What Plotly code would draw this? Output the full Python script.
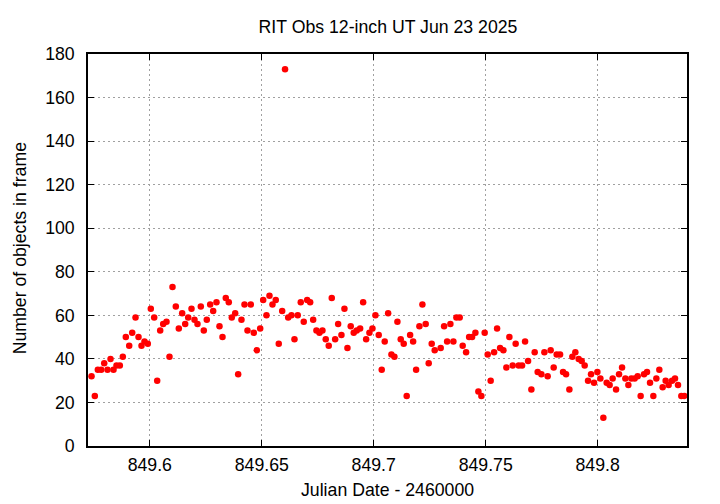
import plotly.graph_objects as go

# Julian Date - 2460000
jd = [
    849.57397, 849.57545, 849.57679, 849.57830, 849.57964, 849.58112, 849.58246, 849.58379, 849.58513, 849.58661,
    849.58795, 849.58929, 849.59080, 849.59214, 849.59362, 849.59496, 849.59629, 849.59763, 849.59911, 849.60045,
    849.60196, 849.60330, 849.60464, 849.60598, 849.60746, 849.60879, 849.61013, 849.61161, 849.61295, 849.61446,
    849.61580, 849.61714, 849.61862, 849.61996, 849.62129, 849.62277, 849.62411, 849.62545, 849.62696, 849.62830,
    849.62978, 849.63112, 849.63246, 849.63393, 849.63527, 849.63661, 849.63813, 849.63946, 849.64094, 849.64228,
    849.64362, 849.64509, 849.64643, 849.64777, 849.64929, 849.65063, 849.65210, 849.65344, 849.65478, 849.65625,
    849.65759, 849.65911, 849.66040, 849.66179, 849.66326, 849.66460, 849.66607, 849.66741, 849.66875, 849.67027,
    849.67161, 849.67295, 849.67442, 849.67576, 849.67710, 849.67857, 849.67991, 849.68125, 849.68277, 849.68411,
    849.68558, 849.68692, 849.68826, 849.68973, 849.69107, 849.69241, 849.69393, 849.69527, 849.69661, 849.69808,
    849.69942, 849.70076, 849.70223, 849.70357, 849.70491, 849.70643, 849.70790, 849.70924, 849.71058, 849.71205,
    849.71339, 849.71473, 849.71625, 849.71759, 849.71893, 849.72040, 849.72174, 849.72321, 849.72455, 849.72589,
    849.72723, 849.72991, 849.73143, 849.73277, 849.73424, 849.73558, 849.73692, 849.73839, 849.73973, 849.74125,
    849.74259, 849.74393, 849.74540, 849.74674, 849.74808, 849.74955, 849.75089, 849.75223, 849.75375, 849.75509,
    849.75643, 849.75790, 849.75924, 849.76058, 849.76205, 849.76339, 849.76473, 849.76625, 849.76759, 849.76893,
    849.77040, 849.77188, 849.77321, 849.77487, 849.77621, 849.77768, 849.77902, 849.78036, 849.78170, 849.78321,
    849.78455, 849.78589, 849.78737, 849.78871, 849.79004, 849.79152, 849.79286, 849.79420, 849.79571, 849.79705,
    849.79839, 849.79987, 849.80121, 849.80254, 849.80402, 849.80536, 849.80670, 849.80821, 849.80955, 849.81089,
    849.81237, 849.81371, 849.81504, 849.81652, 849.81786, 849.81920, 849.82071, 849.82205, 849.82339, 849.82487,
    849.82621, 849.82754, 849.82902, 849.83036, 849.83170, 849.83321, 849.83455, 849.83589, 849.83737, 849.83871,
]

# Number of objects detected in each frame
n_objects = [
    32, 23, 35, 35, 38, 35, 40, 35, 37, 37,
    41, 50, 46, 52, 59, 50, 46, 48, 47, 63,
    59, 30, 53, 56, 57, 41, 73, 64, 54, 61,
    56, 59, 63, 58, 56, 64, 53, 58, 65, 62,
    66, 55, 50, 68, 66, 59, 61, 33, 58, 65,
    53, 65, 52, 44, 54, 67, 60, 69, 65, 67,
    47, 62, 173, 59, 60, 49, 60, 66, 57, 67,
    66, 58, 53, 52, 53, 49, 46, 68, 49, 56,
    51, 63, 45, 55, 52, 53, 54, 66, 49, 52,
    54, 60, 51, 35, 48, 61, 42, 41, 57, 49,
    47, 23, 51, 48, 35, 55, 65, 56, 38, 47,
    44, 45, 55, 48, 56, 48, 59, 59, 46, 43,
    50, 50, 52, 25, 23, 52, 42, 30, 43, 54,
    45, 44, 36, 50, 37, 47, 37, 37, 48, 39,
    26, 43, 34, 33, 43, 32, 44, 36, 42, 42,
    34, 33, 26, 41, 43, 40, 39, 37, 30, 33,
    29, 34, 31, 13, 29, 28, 31, 26, 33, 36,
    31, 28, 31, 31, 32, 23, 33, 34, 29, 23,
    31, 35, 27, 30, 28, 30, 31, 28, 23, 23,
]

x_tick_vals = [849.6, 849.65, 849.7, 849.75, 849.8]
x_tick_text = ["849.6", "849.65", "849.7", "849.75", "849.8"]
y_tick_vals = [0, 20, 40, 60, 80, 100, 120, 140, 160, 180]

title_text = "RIT Obs 12-inch UT Jun 23 2025"
x_title = "Julian Date - 2460000"
y_title = "Number of objects in frame"

FONT = "Liberation Sans, Arial, Helvetica, sans-serif"
FS = 17.7

# The page body has an 8px default margin, so the figure is 712x496
W, H = 712, 496
L, R, T, B = 79.5, 33.3, 45.5, 58.3
plot_w = W - L - R
plot_h = H - T - B

fig = go.Figure()
fig.add_trace(go.Scatter(
    x=jd, y=n_objects, mode="markers",
    marker=dict(symbol="circle", size=6.5, color="#ff0000",
                line=dict(width=0)),
    showlegend=False, hoverinfo="x+y",
))

axis_common = dict(
    showline=True, linecolor="black", linewidth=1.5, mirror="ticks",
    ticks="inside", ticklen=6, tickwidth=1, tickcolor="black",
    showgrid=True, gridcolor="#a0a0a0", gridwidth=1, griddash="2px,3px",
    zeroline=False,
    tickfont=dict(family=FONT, size=FS, color="black"),
)

fig.update_xaxes(
    range=[849.5724, 849.8399],
    tickmode="array", tickvals=x_tick_vals, ticktext=x_tick_text,
    ticklabelstandoff=2,
    **axis_common,
)
fig.update_yaxes(
    range=[0, 180],
    tickmode="array", tickvals=y_tick_vals,
    ticklabelstandoff=8,
    **axis_common,
)

fig.update_layout(
    width=W, height=H,
    margin=dict(l=L, r=R, t=T, b=B, pad=0),
    paper_bgcolor="white", plot_bgcolor="white",
    font=dict(family=FONT, size=FS, color="black"),
    title=dict(text=title_text, x=380 / W, xanchor="center",
               y=1 - 19 / H, yanchor="middle", yref="container",
               font=dict(family=FONT, size=FS, color="black")),
    annotations=[
        dict(text=x_title, xref="paper", yref="paper",
             x=0.5, y=-(482 - (H - B)) / plot_h, xanchor="center", yanchor="middle",
             showarrow=False, font=dict(family=FONT, size=FS, color="black")),
        dict(text=y_title, xref="paper", yref="paper",
             x=-(L - 11) / plot_w, y=0.503, xanchor="center", yanchor="middle",
             textangle=-90, showarrow=False,
             font=dict(family=FONT, size=FS, color="black")),
    ],
)

fig.write_html("out.html")
